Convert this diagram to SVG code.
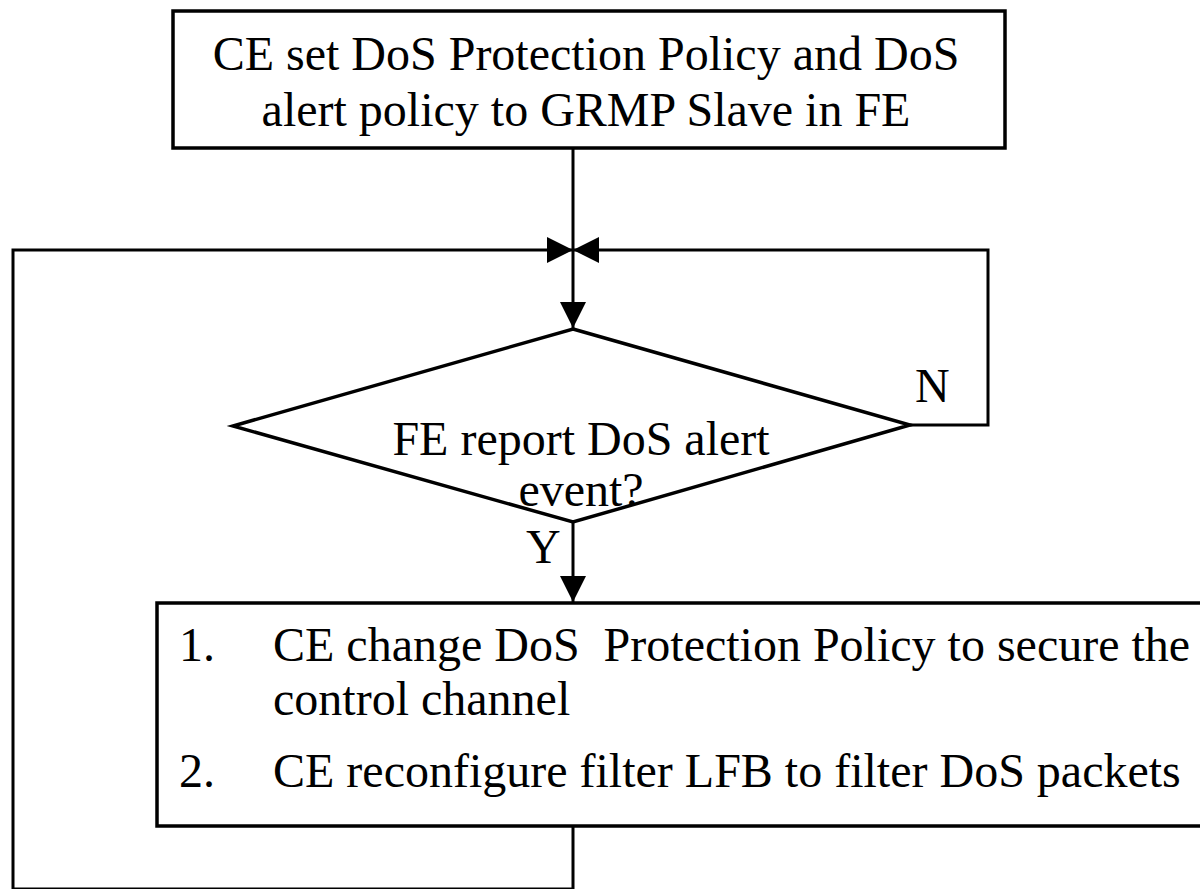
<svg xmlns="http://www.w3.org/2000/svg" width="1200" height="889" viewBox="0 0 1200 889">
  <style>
    .box { fill: #ffffff; stroke: #000000; stroke-width: 3.5; }
    .wire { fill: none; stroke: #000000; stroke-width: 3; stroke-linejoin: miter; }
    text { font-family: 'Liberation Serif', 'Times New Roman', 'DejaVu Serif', serif; font-size: 48px; fill: #000000; }
    .mid { text-anchor: middle; }
  </style>
  <defs>
    <marker id="arrow" viewBox="0 0 26 26" refX="26" refY="13" markerWidth="26" markerHeight="26" markerUnits="userSpaceOnUse" orient="auto">
      <path d="M0,0 L26,13 L0,26 Z" fill="#000000"/>
    </marker>
  </defs>
  <rect width="1200" height="889" fill="#ffffff"/>

  <!-- connectors -->
  <g id="connectors">
    <line class="wire" x1="573" y1="148" x2="573" y2="328" marker-end="url(#arrow)"/>
    <polyline class="wire" points="573,826 573,889 13,889 13,250 573,250" marker-end="url(#arrow)"/>
    <polyline class="wire" points="910,425 988,425 988,250 573,250" marker-end="url(#arrow)"/>
    <line class="wire" x1="573" y1="522" x2="573" y2="602" marker-end="url(#arrow)"/>
  </g>

  <!-- start: policy set-up -->
  <g id="setup">
    <rect class="box" x="173" y="11" width="832" height="137"/>
    <text class="mid" x="586" y="70" font-family="Liberation Serif, serif">CE set DoS Protection Policy and DoS</text>
    <text class="mid" x="586" y="126" font-family="Liberation Serif, serif">alert policy to GRMP Slave in FE</text>
  </g>

  <!-- decision: alert reported? -->
  <g id="decision">
    <polygon class="box" points="573,329 910,425 573,522 233,426"/>
    <text class="mid" x="581" y="455">FE report DoS alert</text>
    <text class="mid" x="581" y="506">event?</text>
    <text x="915" y="402">N</text>
    <text x="526" y="563">Y</text>
  </g>

  <!-- response actions -->
  <g id="response">
    <rect class="box" x="157" y="603" width="1060" height="223"/>
    <text x="179" y="661">1.</text>
    <text x="273" y="661" xml:space="preserve">CE change DoS  Protection Policy to secure the</text>
    <text x="273" y="715">control channel</text>
    <text x="179" y="787">2.</text>
    <text x="273" y="787">CE reconfigure filter LFB to filter DoS packets</text>
  </g>
</svg>
